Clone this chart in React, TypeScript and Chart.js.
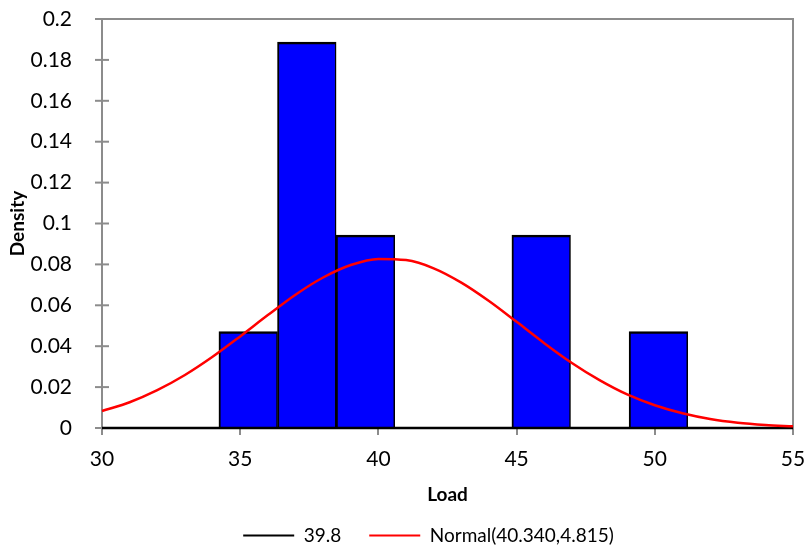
import React, { useEffect, useRef } from "react";
import { Chart, registerables } from "chart.js";

Chart.register(...registerables);

// Histogram bins (centres) and densities
const binCenters = [35.29, 37.41, 39.53, 45.89, 50.13];
const densities = [0.0472, 0.1887, 0.0943, 0.0943, 0.0472];

// Reference line "39.8"
const refLineX = [30, 55];
const refLineY = [0, 0];

// Fitted normal curve
const normalX = [30, 31, 32, 33, 34, 35, 36, 37, 38, 39, 40, 41, 42, 43, 44, 45, 46, 47, 48, 49, 50, 51, 52, 53, 54, 55];
const normalY = [0.0083, 0.0126, 0.0185, 0.0259, 0.0348, 0.0448, 0.0552, 0.0652, 0.0736, 0.0797, 0.0827, 0.0821, 0.0781, 0.0711, 0.0621, 0.0519, 0.0415, 0.0318, 0.0234, 0.0164, 0.0111, 0.0072, 0.0044, 0.0026, 0.0015, 0.0008];

const yTickLabels = ["0", "0.02", "0.04", "0.06", "0.08", "0.1", "0.12", "0.14", "0.16", "0.18", "0.2"];

const refLabel = "39.8";
const normalLabel = "Normal(40.340,4.815)";

const LEGEND_DX = 32;
const LEGEND_DY = -10;

const framePlugin = {
  id: "frame",
  afterLayout(chart: any) {
    const lg = chart.legend;
    if (lg) {
      lg.left += LEGEND_DX;
      lg.right += LEGEND_DX;
      lg.top += LEGEND_DY;
    }
  },
  beforeDatasetsDraw(chart: any) {
    const { ctx, chartArea: a, scales } = chart;
    ctx.save();
    ctx.strokeStyle = "#8c8c8c";
    ctx.lineWidth = 2;
    ctx.strokeRect(a.left, a.top, a.right - a.left, a.bottom - a.top);
    const y = scales.y;
    y.ticks.forEach((_t: any, i: number) => {
      const py = y.getPixelForTick(i);
      ctx.beginPath();
      ctx.moveTo(a.left - 7, py);
      ctx.lineTo(a.left + 7, py);
      ctx.stroke();
    });
    ctx.restore();
  },
};

export default function App() {
  const ref = useRef<HTMLCanvasElement>(null);
  useEffect(() => {
    document.body.style.margin = "0";
    const canvas = ref.current!;
    const chart = new Chart(canvas, {
      type: "bar",
      data: {
        datasets: [
          {
            type: "bar",
            label: "Histogram",
            data: binCenters.map((x, i) => ({ x, y: densities[i] })),
            backgroundColor: "#0000ff",
            borderColor: "#000000",
            borderWidth: { top: 2.5, left: 2, right: 1.5, bottom: 0 },
            borderSkipped: false,
            barPercentage: 1,
            categoryPercentage: 1,
            order: 3,
          } as any,
          {
            type: "line",
            label: refLabel,
            data: refLineX.map((x, i) => ({ x, y: refLineY[i] })),
            borderColor: "#000000",
            backgroundColor: "#000000",
            borderWidth: 2.5,
            pointRadius: 0,
            fill: false,
            clip: false,
            order: 2,
          } as any,
          {
            type: "line",
            label: normalLabel,
            data: normalX.map((x, i) => ({ x, y: normalY[i] })),
            borderColor: "#ff0000",
            backgroundColor: "#ff0000",
            borderWidth: 2.5,
            pointRadius: 0,
            fill: false,
            tension: 0.4,
            cubicInterpolationMode: "monotone",
            clip: false,
            order: 1,
          } as any,
        ],
      },
      options: {
        responsive: false,
        animation: false,
        events: [],
        layout: { padding: { left: 0, top: 19, right: 14, bottom: 0 } },
        font: { family: "Lato" },
        scales: {
          x: {
            type: "linear",
            min: 30,
            max: 55,
            offset: false,
            afterFit: (s: any) => {
              s.height = 80;
              s.paddingLeft = 0;
              s.paddingRight = 0;
            },
            ticks: {
              stepSize: 5,
              padding: 12,
              color: "#000",
              font: { family: "Lato", size: 21 },
              maxRotation: 0,
            },
            grid: {
              offset: false,
              drawOnChartArea: false,
              drawTicks: true,
              tickLength: 7,
              color: "#8c8c8c",
              lineWidth: 2,
            },
            border: { display: false },
            title: {
              display: true,
              text: "Load",
              color: "#000",
              font: { family: "Lato", size: 19, weight: "bold" },
              padding: { top: 0, bottom: 2 },
            },
          },
          y: {
            type: "linear",
            min: 0,
            max: 0.2,
            afterFit: (s: any) => {
              s.width = 102;
              s.paddingTop = 0;
              s.paddingBottom = 0;
            },
            ticks: {
              stepSize: 0.02,
              padding: 22,
              color: "#000",
              font: { family: "Lato", size: 21 },
              callback: (_v: any, i: number) => yTickLabels[i],
            },
            grid: { display: false },
            border: { display: false },
            title: {
              display: true,
              text: "Density",
              color: "#000",
              font: { family: "Lato", size: 19, weight: "bold" },
              padding: { top: 6, bottom: 0 },
            },
          },
        },
        plugins: {
          tooltip: { enabled: false },
          legend: {
            position: "bottom",
            maxHeight: 41,
            labels: {
              boxWidth: 51,
              boxHeight: 2,
              padding: 28,
              color: "#000",
              font: { family: "Lato", size: 19 },
              generateLabels: (c: any) =>
                c.data.datasets
                  .map((d: any, i: number) => ({ d, i }))
                  .filter(({ d }: any) => d.type === "line")
                  .map(({ d, i }: any) => ({
                    text: d.label,
                    fillStyle: d.borderColor,
                    strokeStyle: d.borderColor,
                    lineWidth: 0,
                    fontColor: "#000",
                    hidden: false,
                    datasetIndex: i,
                  })),
            },
          },
        },
      } as any,
      plugins: [framePlugin],
    });
    return () => chart.destroy();
  }, []);
  return (
    <div style={{ width: 807, height: 549 }}>
      <canvas ref={ref} width={807} height={549} style={{ display: "block", width: 807, height: 549 }} />
    </div>
  );
}
